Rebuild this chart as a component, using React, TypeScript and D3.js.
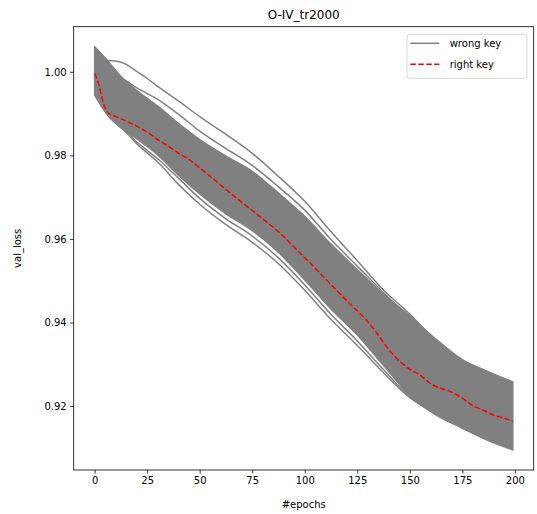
import React, { useEffect, useRef } from 'react';
import * as d3 from 'd3';

const WIDTH = 537;
const HEIGHT = 514;

// dense band of wrong-key curves, read as upper / lower edge
const bandEpochs = [0, 6, 12, 20, 30, 40, 50, 62, 75, 87, 100, 112, 125, 137, 150, 162, 175, 187, 199];
const bandTop = [1.006, 1.0028, 0.9992, 0.9956, 0.9918, 0.9876, 0.9838, 0.98, 0.9762, 0.9712, 0.9654, 0.959, 0.9527, 0.947, 0.9416, 0.9362, 0.9311, 0.9283, 0.9258];
const bandBottom = [0.9944, 0.9897, 0.9868, 0.984, 0.9801, 0.9752, 0.9708, 0.9662, 0.962, 0.957, 0.9502, 0.9435, 0.937, 0.93, 0.9225, 0.918, 0.9147, 0.9118, 0.9095];

// wrong-key curves that stand apart from the band
const outlierEpochs = [0, 3, 6, 10, 15, 20, 25, 30, 40, 50, 62, 75, 87, 100, 112, 125, 137, 150, 162, 175, 187, 199];
const wrongUpper1 = [1.0055, 1.0035, 1.0027, 1.0026, 1.0018, 1.0001, 0.9984, 0.9965, 0.993, 0.9893, 0.9852, 0.9805, 0.9752, 0.969, 0.962, 0.9548, 0.948, 0.942, 0.9358, 0.9305, 0.9275, 0.925];
const wrongUpper2 = [1.004, 1.002, 1.0005, 0.9992, 0.9978, 0.9962, 0.9948, 0.9934, 0.9898, 0.9858, 0.9818, 0.9776, 0.9727, 0.9669, 0.9601, 0.9535, 0.9474, 0.941, 0.935, 0.93, 0.927, 0.9245];
const wrongLower1 = [0.995, 0.9928, 0.99, 0.988, 0.9858, 0.9832, 0.9812, 0.9792, 0.9745, 0.9697, 0.965, 0.9607, 0.9557, 0.949, 0.9422, 0.9356, 0.929, 0.9222, 0.9185, 0.9152, 0.9124, 0.9102];
const wrongLower2 = [0.9948, 0.9924, 0.9899, 0.9878, 0.9855, 0.9828, 0.9806, 0.9784, 0.973, 0.9683, 0.9636, 0.9592, 0.9543, 0.9477, 0.941, 0.9345, 0.9282, 0.922, 0.9183, 0.915, 0.9122, 0.91];

// right key
const rightEpochs = [0, 2, 4, 6, 8, 10, 15, 20, 25, 30, 35, 40, 45, 50, 55, 60, 65, 70, 75, 80, 85, 90, 95, 100, 105, 110, 115, 120, 125, 130, 135, 140, 145, 150, 155, 160, 165, 170, 175, 180, 185, 190, 195, 199];
const rightKey = [0.9996, 0.997, 0.9928, 0.9904, 0.9897, 0.9893, 0.9882, 0.987, 0.9856, 0.9838, 0.9822, 0.9805, 0.979, 0.977, 0.975, 0.9729, 0.9708, 0.9688, 0.9668, 0.9648, 0.9628, 0.9606, 0.958, 0.9555, 0.953, 0.9504, 0.9478, 0.9452, 0.9428, 0.9402, 0.937, 0.9335, 0.9308, 0.9288, 0.9274, 0.9253, 0.9242, 0.9233, 0.9219, 0.9201, 0.919, 0.9178, 0.9171, 0.9163];

const xTicks = [0, 25, 50, 75, 100, 125, 150, 175, 200];
const yTicks = [0.92, 0.94, 0.96, 0.98, 1.0];
const legendLabels = ['wrong key', 'right key'];

const FONT = 'DejaVu Sans, sans-serif';

const App = () => {
  const chartRef = useRef<SVGSVGElement>(null);

  useEffect(() => {
    const svg = d3.select(chartRef.current);
    svg.selectAll('*').remove();

    const left = 73.7;
    const right = 533.7;
    const top = 26.7;
    const bottom = 470;

    const x = d3.scaleLinear().domain([-9.95, 208.95]).range([left, right]);
    const y = d3.scaleLinear().domain([0.9047, 1.0108]).range([bottom, top]);

    const plot = svg.append('g');

    // band
    const band = bandEpochs.map((e, i) => ({ e, t: bandTop[i], b: bandBottom[i] }));
    const area = d3
      .area<{ e: number; t: number; b: number }>()
      .x((d) => x(d.e))
      .y0((d) => y(d.b))
      .y1((d) => y(d.t))
      .curve(d3.curveMonotoneX);
    plot
      .append('path')
      .attr('d', area(band))
      .attr('fill', '#808080')
      .attr('stroke', '#808080')
      .attr('stroke-width', 1.5)
      .attr('stroke-linejoin', 'round');

    const line = d3
      .line<[number, number]>()
      .x((d) => x(d[0]))
      .y((d) => y(d[1]))
      .curve(d3.curveMonotoneX);

    [wrongUpper1, wrongUpper2, wrongLower1, wrongLower2].forEach((vals) => {
      plot
        .append('path')
        .attr('d', line(outlierEpochs.map((e, i) => [e, vals[i]])))
        .attr('fill', 'none')
        .attr('stroke', '#808080')
        .attr('stroke-width', 1.5);
    });

    plot
      .append('path')
      .attr('d', line(rightEpochs.map((e, i) => [e, rightKey[i]])))
      .attr('fill', 'none')
      .attr('stroke', '#ff0000')
      .attr('stroke-width', 1.5)
      .attr('stroke-dasharray', '5.55,2.4');

    // axes
    const xAxis = svg
      .append('g')
      .attr('transform', `translate(0,${bottom})`)
      .call(d3.axisBottom(x).tickValues(xTicks).tickSize(3.5).tickPadding(3.5).tickFormat(d3.format('d')));
    const yAxis = svg
      .append('g')
      .attr('transform', `translate(${left},0)`)
      .call(d3.axisLeft(y).tickValues(yTicks).tickSize(3.5).tickPadding(3.5).tickFormat(d3.format('.2f')));
    [xAxis, yAxis].forEach((a) => {
      a.select('.domain').remove();
      a.selectAll('line').attr('stroke', '#000').attr('stroke-width', 0.8);
      a.selectAll('text').attr('font-family', FONT).attr('font-size', 10).attr('fill', '#000');
    });

    svg
      .append('rect')
      .attr('x', left)
      .attr('y', top)
      .attr('width', right - left)
      .attr('height', bottom - top)
      .attr('fill', 'none')
      .attr('stroke', '#000')
      .attr('stroke-width', 0.8);

    // labels
    svg
      .append('text')
      .attr('x', (left + right) / 2)
      .attr('y', 19)
      .attr('text-anchor', 'middle')
      .attr('font-family', FONT)
      .attr('font-size', 12)
      .text('O-IV_tr2000');
    svg
      .append('text')
      .attr('x', (left + right) / 2)
      .attr('y', 508)
      .attr('text-anchor', 'middle')
      .attr('font-family', FONT)
      .attr('font-size', 10)
      .text('#epochs');
    svg
      .append('text')
      .attr('transform', `translate(21,${(top + bottom) / 2}) rotate(-90)`)
      .attr('text-anchor', 'middle')
      .attr('font-family', FONT)
      .attr('font-size', 10)
      .text('val_loss');

    // legend
    const lg = svg.append('g');
    lg.append('rect')
      .attr('x', 407)
      .attr('y', 34.3)
      .attr('width', 120)
      .attr('height', 44)
      .attr('rx', 2.5)
      .attr('fill', '#fff')
      .attr('fill-opacity', 0.8)
      .attr('stroke', '#cccccc')
      .attr('stroke-width', 0.8);
    legendLabels.forEach((label, i) => {
      const ly = 43.3 + i * 21;
      lg.append('line')
        .attr('x1', 410.3)
        .attr('x2', 439.3)
        .attr('y1', ly)
        .attr('y2', ly)
        .attr('stroke', i === 0 ? '#808080' : '#ff0000')
        .attr('stroke-width', 1.5)
        .attr('stroke-dasharray', i === 0 ? null : '5.55,2.4');
      lg.append('text')
        .attr('x', 449.7)
        .attr('y', ly + 3.6)
        .attr('font-family', FONT)
        .attr('font-size', 10)
        .text(label);
    });
  }, []);

  return (
    <svg
      ref={chartRef}
      width={WIDTH}
      height={HEIGHT}
      style={{ position: 'absolute', left: 0, top: 0, background: '#fff' }}
    ></svg>
  );
};

export default App;
